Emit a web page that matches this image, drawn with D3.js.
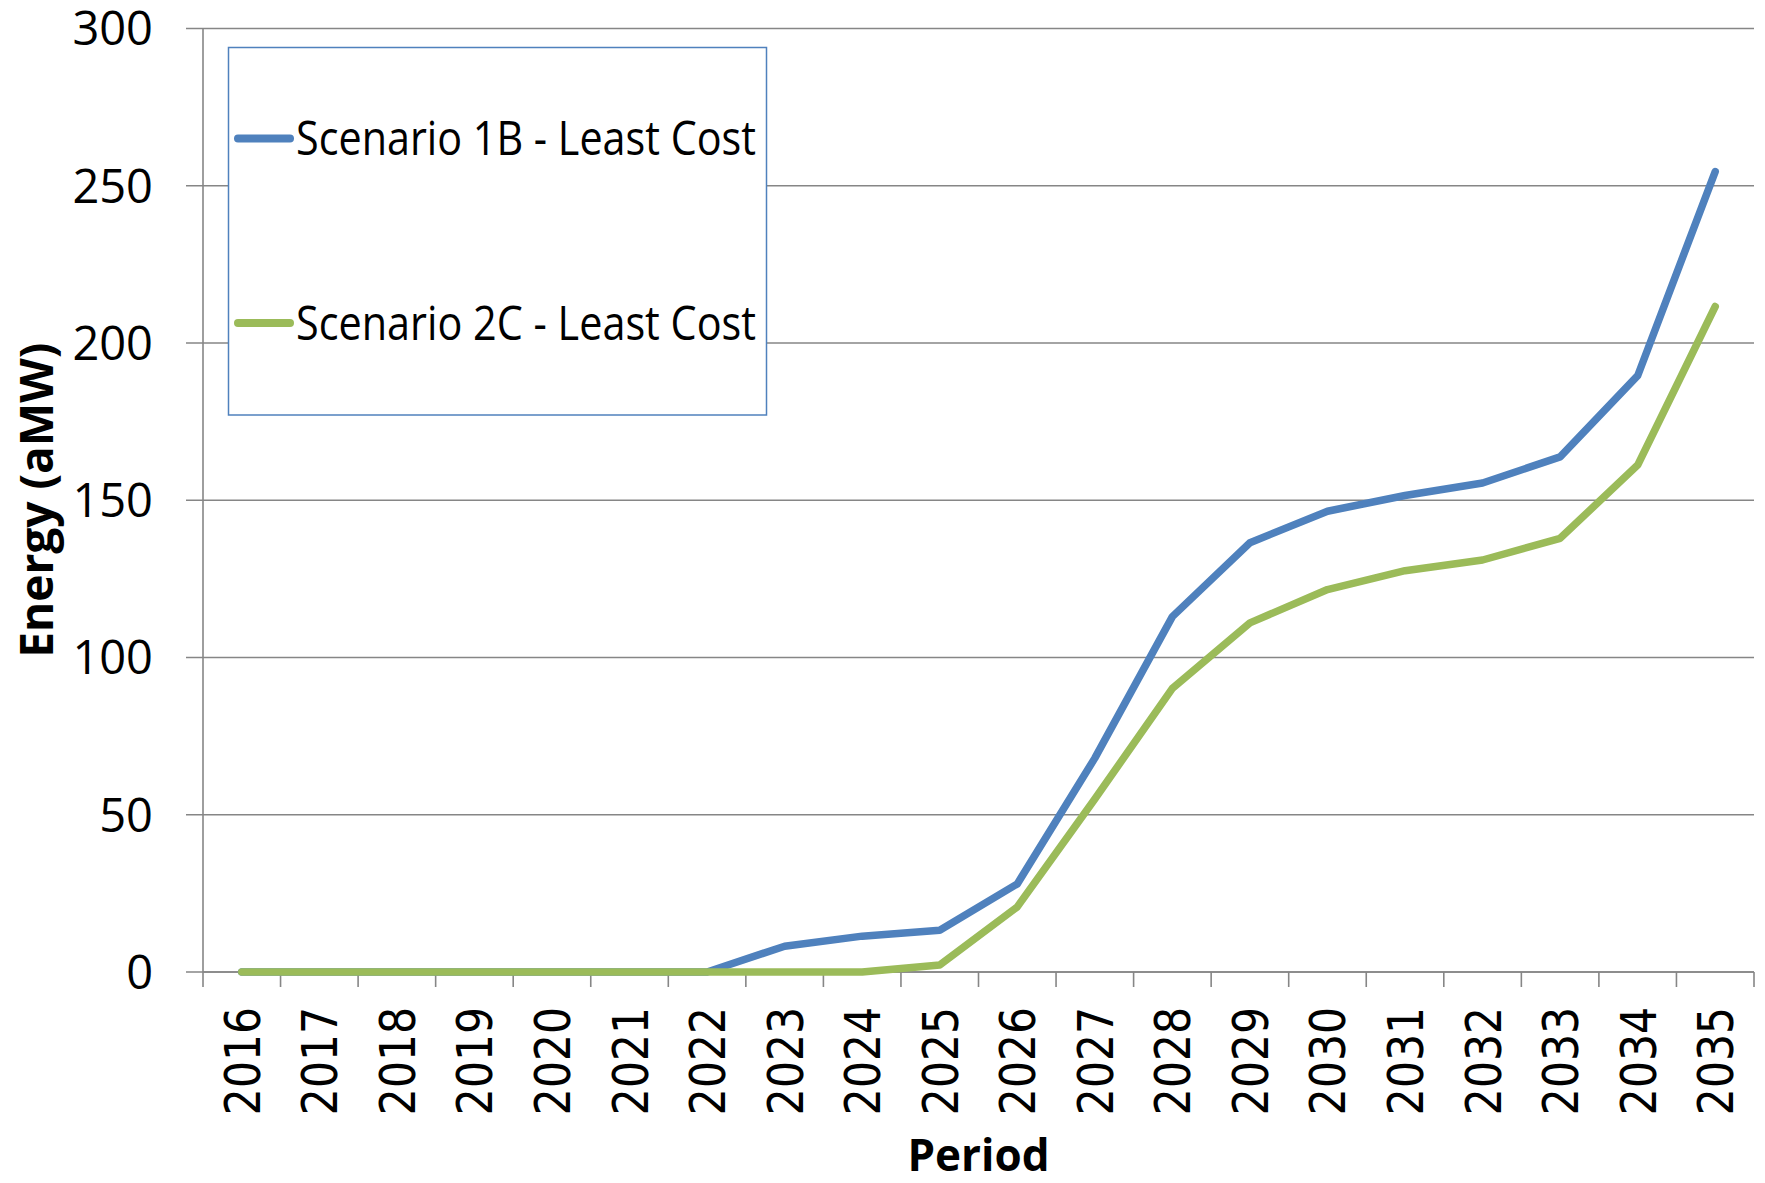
<!DOCTYPE html>
<html>
<head>
<meta charset="utf-8">
<script src="https://cdn.jsdelivr.net/npm/d3@7/dist/d3.min.js"></script>
<style>
  html, body { margin: 0; padding: 0; background: #fff; }
  svg { display: block; }
</style>
</head>
<body>
<svg id="chart" width="1765" height="1183"></svg>
<script>
// Annual energy by scenario (aMW)
const years = ["2016","2017","2018","2019","2020","2021","2022","2023","2024","2025",
               "2026","2027","2028","2029","2030","2031","2032","2033","2034","2035"];
const scenario1B = [0, 0, 0, 0, 0, 0, 0, 8.2, 11.4, 13.3, 28, 68, 113, 136.5, 146.5, 151.5, 155.5, 163.8, 189.6, 254.5];
const scenario2C = [0, 0, 0, 0, 0, 0, 0, 0, 0, 2.2, 20.7, 55, 90.2, 111, 121.6, 127.6, 131, 137.9, 161.2, 211.6];
const yTicks = [0, 50, 100, 150, 200, 250, 300];
const seriesNames = ["Scenario 1B - Least Cost", "Scenario 2C - Least Cost"];
const seriesColors = ["#4F81BD", "#9BBB59"];

const svg = d3.select("#chart");
const margin = { top: 28.5, right: 11, bottom: 211, left: 203 };
const W = 1765 - margin.left - margin.right;
const H = 1183 - margin.top - margin.bottom;
const g = svg.append("g").attr("transform", `translate(${margin.left},${margin.top})`);

const x = d3.scaleBand().domain(years).range([0, W]).padding(0);
const y = d3.scaleLinear().domain([0, 300]).range([H, 0]);
const gridColor = "#868686";
const tickFont = "'Open Sans', 'Noto Sans', sans-serif";

// Horizontal gridlines with short outward ticks
g.append("g").selectAll("line").data(yTicks).join("line")
  .attr("x1", -17).attr("x2", W)
  .attr("y1", d => y(d)).attr("y2", d => y(d))
  .attr("stroke", gridColor).attr("stroke-width", 1.6);

// Y tick labels
g.append("g").selectAll("text").data(yTicks).join("text")
  .attr("x", -50).attr("y", d => y(d)).attr("dy", "0.357em")
  .attr("text-anchor", "end")
  .style("font-family", tickFont).style("font-size", "47px").attr("fill", "#000")
  .text(d => d);

// Y axis line
g.append("line").attr("x1", 0).attr("x2", 0).attr("y1", y(300)).attr("y2", H)
  .attr("stroke", gridColor).attr("stroke-width", 1.6);

// X axis line and tick marks at category boundaries
g.append("line").attr("x1", 0).attr("x2", W).attr("y1", H).attr("y2", H)
  .attr("stroke", gridColor).attr("stroke-width", 1.6);
const boundaries = years.map(d => x(d)).concat([W]);
g.append("g").selectAll("line").data(boundaries).join("line")
  .attr("x1", d => d).attr("x2", d => d).attr("y1", H).attr("y2", H + 15)
  .attr("stroke", gridColor).attr("stroke-width", 1.6);

// X tick labels, rotated
g.append("g").selectAll("text").data(years).join("text")
  .attr("transform", d => `translate(${x(d) + x.bandwidth() / 2},${H + 35}) rotate(-90) scale(0.85,1)`)
  .attr("text-anchor", "end").attr("dy", "0.36em")
  .style("font-family", "'DejaVu Sans', sans-serif").style("font-size", "50px").attr("fill", "#000")
  .text(d => d);

// Series lines
const line = d3.line()
  .x((d, i) => x(years[i]) + x.bandwidth() / 2)
  .y(d => y(d));
[scenario1B, scenario2C].forEach((vals, k) => {
  g.append("path").datum(vals)
    .attr("d", line)
    .attr("fill", "none")
    .attr("stroke", seriesColors[k])
    .attr("stroke-width", 7.5)
    .attr("stroke-linecap", "round")
    .attr("stroke-linejoin", "round");
});

// Axis titles
svg.append("text")
  .attr("transform", `translate(53,${margin.top + H / 2}) rotate(-90)`)
  .attr("text-anchor", "middle")
  .style("font-family", tickFont).style("font-size", "46px").style("font-weight", "bold")
  .text("Energy (aMW)");
svg.append("text")
  .attr("x", margin.left + W / 2).attr("y", 1171)
  .attr("text-anchor", "middle")
  .style("font-family", tickFont).style("font-size", "44px").style("font-weight", "bold")
  .text("Period");

// Legend
const legend = svg.append("g");
legend.append("rect")
  .attr("x", 228.5).attr("y", 47.5).attr("width", 538).attr("height", 367.5)
  .attr("fill", "#fff").attr("stroke", "#4F81BD").attr("stroke-width", 1.5);
const legendRows = [138.5, 323];
seriesNames.forEach((name, k) => {
  legend.append("line")
    .attr("x1", 238).attr("x2", 290).attr("y1", legendRows[k]).attr("y2", legendRows[k])
    .attr("stroke", seriesColors[k]).attr("stroke-width", 8).attr("stroke-linecap", "round");
  legend.append("text")
    .attr("x", 296).attr("y", legendRows[k]).attr("dy", "0.357em")
    .attr("textLength", 460).attr("lengthAdjust", "spacingAndGlyphs")
    .style("font-family", tickFont).style("font-size", "47px").attr("fill", "#000")
    .text(name);
});
</script>
</body>
</html>
